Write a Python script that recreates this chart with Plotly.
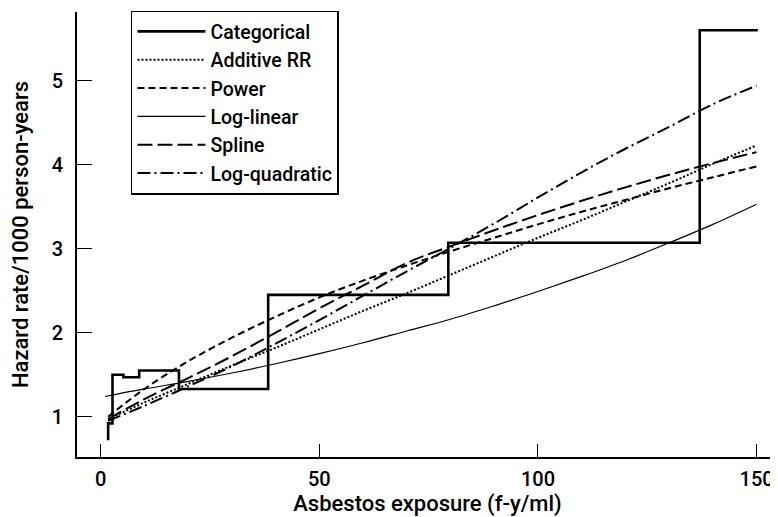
import plotly.graph_objects as go

# Categorical step estimates
cat_x = [1.7, 1.7, 2.7, 5.2, 8.8, 17.9, 38.3, 79.5, 137.0, 150.3]
cat_y = [0.72, 0.92, 1.50, 1.47, 1.55, 1.33, 2.45, 3.07, 5.60, 5.60]

# Smooth model curves
fit_x = [1.7, 10, 20, 30, 40, 50, 60, 70, 80, 90, 100, 110, 120, 130, 140, 150]
loglin_x = [1.0, 10, 20, 30, 40, 50, 60, 70, 80, 90, 100, 110, 120, 130, 140, 150]
additive_y = [0.97, 1.17, 1.39, 1.61, 1.82, 2.04, 2.26, 2.47, 2.69, 2.91, 3.13, 3.34, 3.56, 3.78, 4.01, 4.23]
power_y = [1.00, 1.33, 1.66, 1.94, 2.19, 2.42, 2.62, 2.80, 2.97, 3.13, 3.29, 3.44, 3.58, 3.72, 3.85, 3.98]
loglinear_y = [1.24, 1.33, 1.42, 1.52, 1.63, 1.75, 1.88, 2.02, 2.16, 2.32, 2.49, 2.67, 2.86, 3.07, 3.29, 3.53]
spline_y = [0.97, 1.21, 1.46, 1.72, 2.00, 2.29, 2.56, 2.83, 3.03, 3.22, 3.40, 3.57, 3.73, 3.88, 4.02, 4.15]
logquad_y = [0.95, 1.13, 1.36, 1.60, 1.87, 2.15, 2.44, 2.73, 3.01, 3.30, 3.61, 3.91, 4.19, 4.45, 4.72, 4.94]

x_ticks = [0, 50, 100, 150]
y_ticks = [1, 2, 3, 4, 5]

FONT = "Roboto, Liberation Sans, Arial, sans-serif"

fig = go.Figure()
fig.add_trace(go.Scatter(x=cat_x, y=cat_y, mode="lines", name="Categorical",
                         line=dict(color="black", width=2.6, shape="hv")))
fig.add_trace(go.Scatter(x=fit_x, y=additive_y, mode="lines", name="Additive RR",
                         line=dict(color="black", width=2, dash="2px,2px", shape="spline")))
fig.add_trace(go.Scatter(x=fit_x, y=power_y, mode="lines", name="Power",
                         line=dict(color="black", width=2, dash="7px,4px", shape="spline")))
fig.add_trace(go.Scatter(x=loglin_x, y=loglinear_y, mode="lines", name="Log-linear",
                         line=dict(color="black", width=1.2, shape="spline")))
fig.add_trace(go.Scatter(x=fit_x, y=spline_y, mode="lines", name="Spline",
                         line=dict(color="black", width=2, dash="15px,5px", shape="spline")))
fig.add_trace(go.Scatter(x=fit_x, y=logquad_y, mode="lines", name="Log-quadratic",
                         line=dict(color="black", width=2, dash="13px,4px,2px,4px", shape="spline")))

# The page body adds an 8px offset, so the figure is 8px smaller on each side.
fig.update_layout(
    width=770, height=509,
    margin=dict(l=69, r=0, t=4, b=60),
    paper_bgcolor="white", plot_bgcolor="white",
    font=dict(family=FONT, size=20, color="black", weight=500),
    showlegend=True,
    legend=dict(x=0.077, y=1.003, xanchor="left", yanchor="top",
                bordercolor="black", borderwidth=1.5, bgcolor="white",
                font=dict(family=FONT, size=19.5, color="black", weight=500),
                itemwidth=68, tracegroupgap=0),
    xaxis=dict(range=[-5.42, 154.9], tickvals=x_ticks, ticktext=[str(v) for v in x_ticks],
               ticks="inside", ticklen=13, tickwidth=1.3, tickcolor="black",
               showline=True, linecolor="black", linewidth=1.6,
               showgrid=False, zeroline=False, ticklabelstandoff=3,
               title=dict(text="Asbestos exposure (f-y/ml)", font=dict(size=22, weight=500), standoff=9)),
    yaxis=dict(range=[0.52, 5.818], tickvals=y_ticks, ticktext=[str(v) for v in y_ticks],
               ticks="inside", ticklen=15, tickwidth=1.3, tickcolor="black",
               showline=True, linecolor="black", linewidth=1.6,
               showgrid=False, zeroline=False, ticklabelstandoff=8,
               title=dict(text="Hazard rate/1000 person-years", font=dict(size=22, weight=500), standoff=24)),
)

fig.write_html("out.html")
